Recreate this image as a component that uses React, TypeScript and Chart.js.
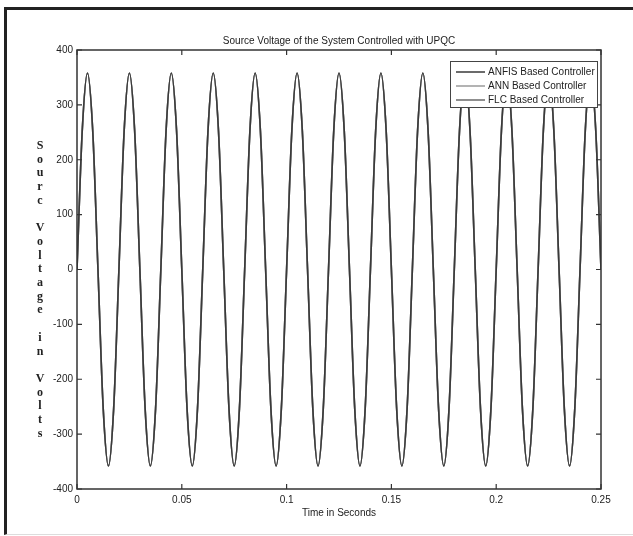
import React, { useEffect, useRef } from "react";
import { Chart, registerables } from "chart.js";

Chart.register(...registerables);

const chartTitle = "Source Voltage of the System Controlled with UPQC";
const xAxisTitle = "Time in Seconds";
const yAxisTitle = "Sourc Voltage in Volts";

const seriesLabels = ["ANFIS Based Controller", "ANN Based Controller", "FLC Based Controller"];
const seriesColors = ["#3a3a3a", "#9a9a9a", "#6a6a6a"];

const xTickValues = [0, 0.05, 0.1, 0.15, 0.2, 0.25];
const xTickLabels = ["0", "0.05", "0.1", "0.15", "0.2", "0.25"];
const yTickValues = [-400, -300, -200, -100, 0, 100, 200, 300, 400];

// time samples (s)
const timeSeconds = [
  0, 0.0025, 0.005, 0.0075, 0.01, 0.0125, 0.015, 0.0175,
  0.02, 0.0225, 0.025, 0.0275, 0.03, 0.0325, 0.035, 0.0375,
  0.04, 0.0425, 0.045, 0.0475, 0.05, 0.0525, 0.055, 0.0575,
  0.06, 0.0625, 0.065, 0.0675, 0.07, 0.0725, 0.075, 0.0775,
  0.08, 0.0825, 0.085, 0.0875, 0.09, 0.0925, 0.095, 0.0975,
  0.1, 0.1025, 0.105, 0.1075, 0.11, 0.1125, 0.115, 0.1175,
  0.12, 0.1225, 0.125, 0.1275, 0.13, 0.1325, 0.135, 0.1375,
  0.14, 0.1425, 0.145, 0.1475, 0.15, 0.1525, 0.155, 0.1575,
  0.16, 0.1625, 0.165, 0.1675, 0.17, 0.1725, 0.175, 0.1775,
  0.18, 0.1825, 0.185, 0.1875, 0.19, 0.1925, 0.195, 0.1975,
  0.2, 0.2025, 0.205, 0.2075, 0.21, 0.2125, 0.215, 0.2175,
  0.22, 0.2225, 0.225, 0.2275, 0.23, 0.2325, 0.235, 0.2375,
  0.24, 0.2425, 0.245, 0.2475, 0.25,
];

// source voltage (V), ANFIS controller
const anfisVolts = [
  0, 253, 358, 253, 0, -253, -358, -253,
  0, 253, 358, 253, 0, -253, -358, -253,
  0, 253, 358, 253, 0, -253, -358, -253,
  0, 253, 358, 253, 0, -253, -358, -253,
  0, 253, 358, 253, 0, -253, -358, -253,
  0, 253, 358, 253, 0, -253, -358, -253,
  0, 253, 358, 253, 0, -253, -358, -253,
  0, 253, 358, 253, 0, -253, -358, -253,
  0, 253, 358, 253, 0, -253, -358, -253,
  0, 253, 358, 253, 0, -253, -358, -253,
  0, 253, 358, 253, 0, -253, -358, -253,
  0, 253, 358, 253, 0, -253, -358, -253,
  0, 253, 358, 253, 0,
];
// the ANN and FLC traces coincide with the ANFIS trace in the figure
const annVolts = anfisVolts;
const flcVolts = anfisVolts;

const seriesValues = [anfisVolts, annVolts, flcVolts];

const SANS = "'Liberation Sans', Arial, sans-serif";
const SERIF = "'Liberation Serif', 'Times New Roman', serif";

const decorPlugin = {
  id: "matlabDecor",
  afterDraw(chart: any) {
    const { ctx, chartArea } = chart;
    const { left, right, top, bottom } = chartArea;
    const xs = chart.scales.x;
    const ys = chart.scales.y;
    ctx.save();
    // box
    ctx.strokeStyle = "#333";
    ctx.lineWidth = 1.5;
    ctx.strokeRect(left, top, right - left, bottom - top);
    // inward ticks
    ctx.lineWidth = 1.2;
    ctx.beginPath();
    const tl = 5;
    xTickValues.forEach((v) => {
      const px = xs.getPixelForValue(v);
      ctx.moveTo(px, bottom);
      ctx.lineTo(px, bottom - tl);
      ctx.moveTo(px, top);
      ctx.lineTo(px, top + tl);
    });
    yTickValues.forEach((v) => {
      const py = ys.getPixelForValue(v);
      ctx.moveTo(left, py);
      ctx.lineTo(left + tl, py);
      ctx.moveTo(right, py);
      ctx.lineTo(right - tl, py);
    });
    ctx.stroke();

    // title
    ctx.fillStyle = "#222";
    ctx.font = `10px ${SANS}`;
    ctx.textAlign = "center";
    ctx.textBaseline = "middle";
    ctx.fillText(chartTitle, (left + right) / 2, top - 9);

    // x axis title
    ctx.fillText(xAxisTitle, (left + right) / 2, bottom + 24);

    // stacked y title
    ctx.font = `bold 12px ${SERIF}`;
    const chars = Array.from(yAxisTitle);
    const step = 13.7;
    let y0 = top + 96;
    chars.forEach((c, i) => {
      if (c !== " ") ctx.fillText(c, 40, y0 + i * step);
    });

    // legend
    const lx = right - 151;
    const ly = top + 11;
    const lw = 147;
    const lh = 46;
    ctx.fillStyle = "#fff";
    ctx.fillRect(lx, ly, lw, lh);
    ctx.strokeStyle = "#444";
    ctx.lineWidth = 1;
    ctx.strokeRect(lx + 0.5, ly + 0.5, lw, lh);
    ctx.font = `10px ${SANS}`;
    ctx.textAlign = "left";
    chart.data.datasets.forEach((ds: any, i: number) => {
      const ry = ly + 11 + i * 14;
      ctx.strokeStyle = ds.borderColor;
      ctx.lineWidth = 1.5;
      ctx.beginPath();
      ctx.moveTo(lx + 6, ry);
      ctx.lineTo(lx + 35, ry);
      ctx.stroke();
      ctx.fillStyle = "#222";
      ctx.fillText(ds.label, lx + 38, ry + 0.5);
    });
    ctx.restore();
  },
};

export default function App() {
  const ref = useRef<HTMLCanvasElement | null>(null);
  useEffect(() => {
    if (!ref.current) return;
    const datasets = seriesLabels
      .map((label, i) => ({
        label,
        data: timeSeconds.map((t, j) => ({ x: t, y: seriesValues[i][j] })),
        borderColor: seriesColors[i],
        borderWidth: 1.6,
        pointRadius: 0,
        fill: false,
        cubicInterpolationMode: "monotone" as const,
        order: i,
      }));
    const chart = new Chart(ref.current, {
      type: "line",
      data: { datasets },
      options: {
        animation: false,
        responsive: false,
        layout: { padding: { top: 50, right: 32, left: 0, bottom: 0 } },
        plugins: {
          legend: { display: false },
          title: { display: false },
          tooltip: { enabled: false },
        },
        scales: {
          x: {
            type: "linear",
            min: 0,
            max: 0.25,
            grid: { display: false, drawTicks: false },
            border: { display: false },
            afterBuildTicks: (scale: any) => {
              scale.ticks = xTickValues.map((v) => ({ value: v }));
            },
            afterFit: (scale: any) => {
              scale.height = 47;
            },
            ticks: {
              padding: 5,
              color: "#222",
              font: { family: SANS, size: 10 },
              maxRotation: 0,
              callback: (v: any) => {
                const i = xTickValues.findIndex((t) => Math.abs(t - Number(v)) < 1e-9);
                return i >= 0 ? xTickLabels[i] : "";
              },
            },
          },
          y: {
            type: "linear",
            min: -400,
            max: 400,
            grid: { display: false, drawTicks: false },
            border: { display: false },
            afterBuildTicks: (scale: any) => {
              scale.ticks = yTickValues.map((v) => ({ value: v }));
            },
            afterFit: (scale: any) => {
              scale.width = 77;
            },
            ticks: {
              padding: 4,
              color: "#222",
              font: { family: SANS, size: 10 },
              callback: (v: any) => String(v),
            },
          },
        },
      },
      plugins: [decorPlugin],
    });
    return () => chart.destroy();
  }, []);

  return (
    <div
      style={{
        position: "fixed",
        left: 0,
        top: 0,
        width: 633,
        height: 536,
        overflow: "hidden",
        background: "#fff",
      }}
    >
      <div
        style={{
          position: "absolute",
          left: 4,
          top: 7,
          width: 700,
          height: 524,
          borderLeft: "3px solid #222",
          borderTop: "3px solid #222",
          borderBottom: "1px solid #ddd",
        }}
      />
      <canvas
        ref={ref}
        width={633}
        height={536}
        style={{ position: "absolute", left: 0, top: 0, width: 633, height: 536 }}
      />
    </div>
  );
}
